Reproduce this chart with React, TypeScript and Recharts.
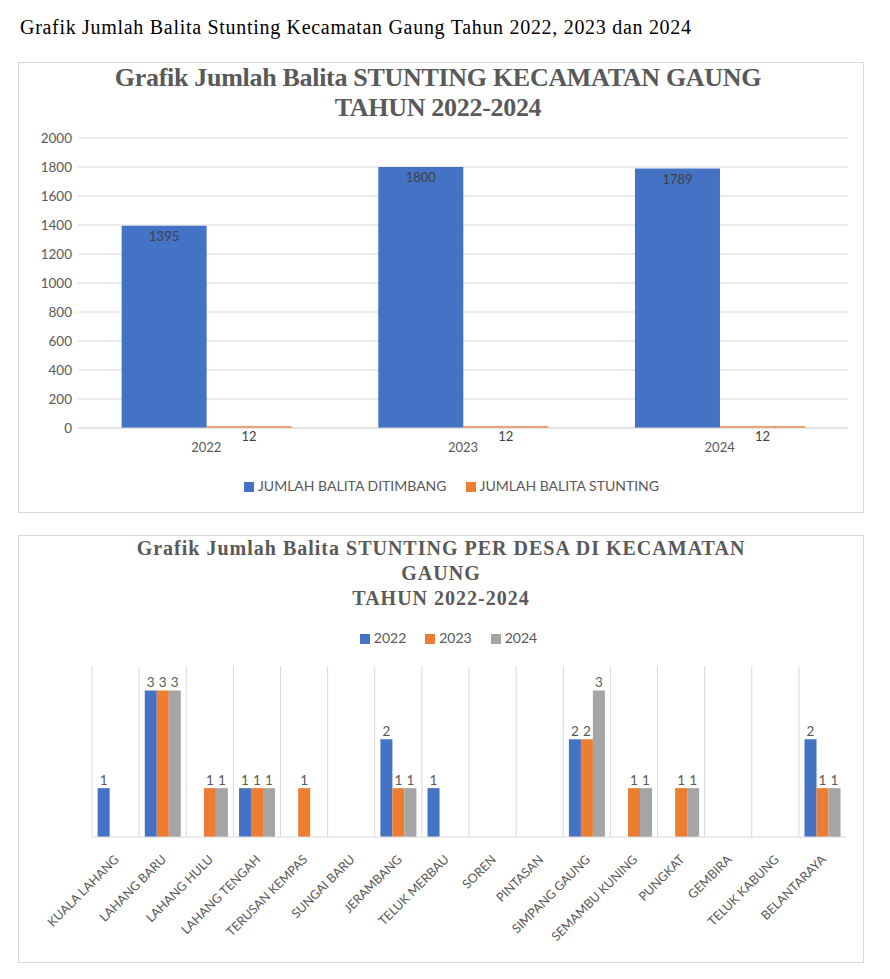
import React from "react"
import {
  BarChart,
  Bar,
  XAxis,
  YAxis,
  CartesianGrid,
  Legend,
  LabelList,
} from "recharts"

// chart 1: per year
const years = ["2022", "2023", "2024"]
const ditimbang = [1395, 1800, 1789]
const stunting = [12, 12, 12]
const yTicks = [0, 200, 400, 600, 800, 1000, 1200, 1400, 1600, 1800, 2000]

// chart 2: per desa
const desa = [
  "KUALA LAHANG",
  "LAHANG BARU",
  "LAHANG HULU",
  "LAHANG TENGAH",
  "TERUSAN KEMPAS",
  "SUNGAI BARU",
  "JERAMBANG",
  "TELUK MERBAU",
  "SOREN",
  "PINTASAN",
  "SIMPANG GAUNG",
  "SEMAMBU KUNING",
  "PUNGKAT",
  "GEMBIRA",
  "TELUK KABUNG",
  "BELANTARAYA",
]
const s2022 = [1, 3, 0, 1, 0, 0, 2, 1, 0, 0, 2, 0, 0, 0, 0, 2]
const s2023 = [0, 3, 1, 1, 1, 0, 1, 0, 0, 0, 2, 1, 1, 0, 0, 1]
const s2024 = [0, 3, 1, 1, 0, 0, 1, 0, 0, 0, 3, 1, 1, 0, 0, 1]

const FONT = "Lato, 'Noto Sans', sans-serif"
const SERIF = "'Liberation Serif', 'Times New Roman', serif"
const GRID = "#d9d9d9"
const TXT = "#595959"

const yearData = years.map((y, i) => ({
  year: y,
  ditimbang: ditimbang[i],
  stunting: stunting[i],
}))

const desaData = desa.map((d, i) => ({
  desa: d,
  y2022: s2022[i],
  y2023: s2023[i],
  y2024: s2024[i],
}))

const hideZero = (v: any) => (v ? v : "")

// legend text with a bit more room between items, like excel
const legendText = (v: any) => (
  <span style={{ color: TXT, marginRight: 9 }}>{v}</span>
)

const boxStyle: React.CSSProperties = {
  position: "absolute",
  left: 18,
  width: 846,
  border: `1px solid ${GRID}`,
  boxSizing: "border-box",
  background: "#fff",
}

const titleStyle: React.CSSProperties = {
  position: "absolute",
  width: 890,
  textAlign: "center",
  fontFamily: SERIF,
  fontWeight: "bold",
  color: TXT,
  whiteSpace: "nowrap",
}

export default function App() {
  return (
    <div style={{ position: "absolute", left: 0, top: 0, width: 890, height: 979, background: "#fff" }}>
      <div
        style={{
          position: "absolute",
          left: 20,
          top: 16,
          fontFamily: SERIF,
          fontSize: 20,
          letterSpacing: 0.7,
          color: "#000",
          whiteSpace: "nowrap",
        }}
      >
        Grafik Jumlah Balita Stunting Kecamatan Gaung Tahun 2022, 2023 dan 2024
      </div>

      <div style={{ ...boxStyle, top: 62, height: 451 }} />
      <div style={{ ...titleStyle, left: -7, top: 63, fontSize: 26, lineHeight: "30px", letterSpacing: -0.3 }}>
        Grafik Jumlah Balita STUNTING KECAMATAN GAUNG
        <br />
        TAHUN 2022-2024
      </div>
      <div style={{ position: "absolute", left: 0, top: 120 }}>
        <BarChart
          width={890}
          height={400}
          data={yearData}
          margin={{ top: 18, right: 42, left: 38, bottom: 62 }}
          barCategoryGap="17%"
          barGap={0}
        >
          <CartesianGrid vertical={false} stroke={GRID} />
          <XAxis
            dataKey="year"
            tickLine={false}
            axisLine={{ stroke: GRID }}
            tick={{ fontSize: 13, fill: TXT, fontFamily: FONT }}
            tickMargin={9}
            height={30}
          />
          <YAxis
            domain={[0, 2000]}
            ticks={yTicks}
            width={40}
            tickLine={false}
            axisLine={false}
            tickSize={4}
            tickMargin={2}
            tick={{ fontSize: 13.5, fill: TXT, fontFamily: FONT }}
          />
          <Legend
            verticalAlign="middle"
            align="center"
            layout="horizontal"
            iconType="square"
            iconSize={10}
            wrapperStyle={{ top: 357, left: 56, fontSize: 14, fontFamily: FONT }}
            formatter={legendText}
          />
          <Bar dataKey="ditimbang" name="JUMLAH BALITA DITIMBANG" fill="#4472C4" isAnimationActive={false}>
            <LabelList dataKey="ditimbang" position="insideTop" offset={6} fill="#404040" fontSize={13} fontFamily={FONT} />
          </Bar>
          <Bar dataKey="stunting" name="JUMLAH BALITA STUNTING" fill="#ED7D31" isAnimationActive={false}>
            <LabelList dataKey="stunting" position="insideTop" offset={6} fill="#404040" fontSize={13} fontFamily={FONT} />
          </Bar>
        </BarChart>
      </div>

      <div style={{ ...boxStyle, top: 535, height: 428 }} />
      <div style={{ ...titleStyle, left: -4, top: 536, fontSize: 20, lineHeight: "25px", letterSpacing: 1 }}>
        Grafik Jumlah Balita STUNTING PER DESA DI KECAMATAN
        <br />
        GAUNG
        <br />
        TAHUN 2022-2024
      </div>
      <div style={{ position: "absolute", left: 0, top: 600 }}>
        <BarChart
          width={890}
          height={379}
          data={desaData}
          margin={{ top: 66, right: 44, left: 92, bottom: 42 }}
          barCategoryGap="12%"
          barGap={0}
        >
          <CartesianGrid
            horizontal={false}
            stroke={GRID}
            verticalCoordinatesGenerator={({ offset }: any) =>
              desa.map((_, i) => offset.left + (i * offset.width) / desa.length)
            }
          />
          <XAxis
            dataKey="desa"
            interval={0}
            tickLine={false}
            axisLine={{ stroke: GRID }}
            tick={{ fontSize: 12.5, fill: TXT, fontFamily: FONT, angle: -45, textAnchor: "end", verticalAnchor: "middle", dx: -2 } as any}
            tickMargin={11}
            height={100}
          />
          <YAxis hide domain={[0, 3.5]} />
          <Legend
            verticalAlign="middle"
            align="center"
            layout="horizontal"
            iconType="square"
            iconSize={10}
            wrapperStyle={{ top: 29, left: 81, fontSize: 14, fontFamily: FONT }}
            formatter={legendText}
          />
          <Bar dataKey="y2022" name="2022" fill="#4472C4" isAnimationActive={false}>
            <LabelList dataKey="y2022" position="top" offset={3} fill={TXT} fontSize={13.5} fontFamily={FONT} formatter={hideZero} />
          </Bar>
          <Bar dataKey="y2023" name="2023" fill="#ED7D31" isAnimationActive={false}>
            <LabelList dataKey="y2023" position="top" offset={3} fill={TXT} fontSize={13.5} fontFamily={FONT} formatter={hideZero} />
          </Bar>
          <Bar dataKey="y2024" name="2024" fill="#A5A5A5" isAnimationActive={false}>
            <LabelList dataKey="y2024" position="top" offset={3} fill={TXT} fontSize={13.5} fontFamily={FONT} formatter={hideZero} />
          </Bar>
        </BarChart>
      </div>
    </div>
  )
}
